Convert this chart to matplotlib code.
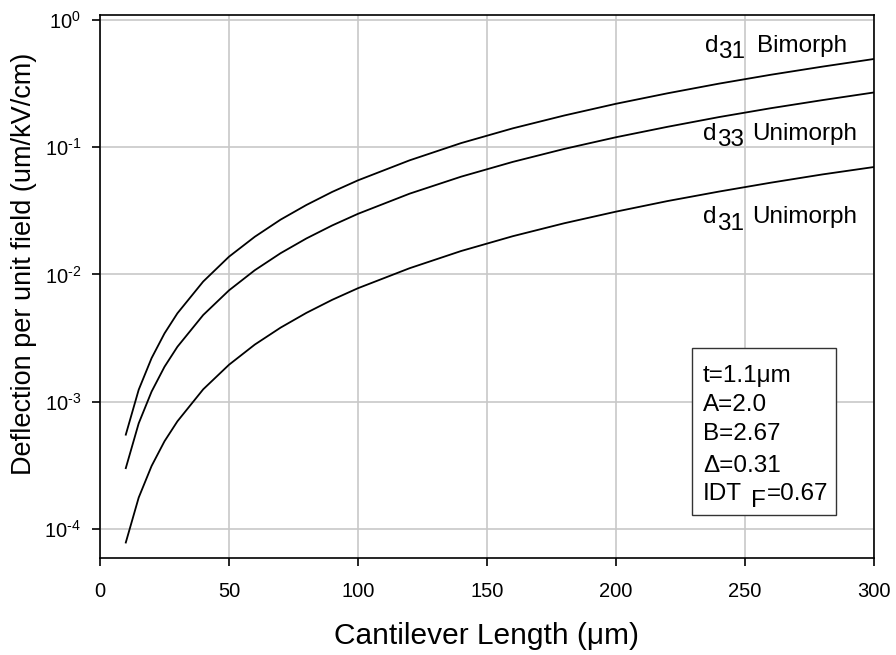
import matplotlib
matplotlib.use("Agg")
import matplotlib.pyplot as plt
from matplotlib.patches import Rectangle

plt.rcParams['font.family'] = ['Liberation Sans', 'DejaVu Sans']
plt.rcParams['mathtext.fontset'] = 'custom'
plt.rcParams['mathtext.rm'] = 'Liberation Sans'

# cantilever length (um)
length = [10, 15, 20, 25, 30, 40, 50, 60, 70, 80, 90, 100, 120, 140,
          160, 180, 200, 220, 240, 260, 280, 300]

# deflection per unit field (um/kV/cm)
d31_bimorph = [5.5e-4, 1.24e-3, 2.2e-3, 3.44e-3, 4.95e-3, 8.8e-3, 1.38e-2,
               1.98e-2, 2.70e-2, 3.52e-2, 4.46e-2, 5.5e-2, 7.9e-2, 0.108,
               0.141, 0.178, 0.22, 0.266, 0.317, 0.372, 0.431, 0.495]
d33_unimorph = [3.0e-4, 6.75e-4, 1.2e-3, 1.88e-3, 2.7e-3, 4.8e-3, 7.5e-3,
                1.08e-2, 1.47e-2, 1.92e-2, 2.43e-2, 3.0e-2, 4.32e-2, 5.88e-2,
                7.68e-2, 9.72e-2, 0.12, 0.145, 0.173, 0.203, 0.235, 0.27]
d31_unimorph = [7.8e-5, 1.76e-4, 3.12e-4, 4.88e-4, 7.0e-4, 1.25e-3, 1.95e-3,
                2.81e-3, 3.82e-3, 4.99e-3, 6.32e-3, 7.8e-3, 1.12e-2, 1.53e-2,
                2.0e-2, 2.53e-2, 3.12e-2, 3.78e-2, 4.49e-2, 5.27e-2, 6.12e-2,
                7.0e-2]

x_ticks = [0, 50, 100, 150, 200, 250, 300]
y_ticks = [1e-4, 1e-3, 1e-2, 1e-1, 1e0]
y_tick_labels = ['10$^{‐4}$', '10$^{‐3}$', '10$^{‐2}$', '10$^{‐1}$', '10$^{0}$']

fig = plt.figure(figsize=(8.96, 6.55), dpi=100)
ax = fig.add_axes([0.1116, 0.148, 0.8638, 0.829])

for ys in (d31_bimorph, d33_unimorph, d31_unimorph):
    ax.plot(length, ys, color='black', lw=1.3, zorder=3)

ax.set_yscale('log')
ax.set_xlim(0, 300)
ax.set_ylim(10 ** -4.23, 10 ** 0.04)
ax.set_xticks(x_ticks)
ax.set_xticklabels([str(v) for v in x_ticks])
ax.set_yticks(y_ticks)
ax.set_yticklabels(y_tick_labels)
ax.minorticks_off()
ax.tick_params(labelsize=14.5, length=5.5, width=1.2, direction='out')
ax.tick_params(axis='x', pad=12)
ax.tick_params(axis='y', pad=8)
ax.grid(True, color='#c8c8c8', lw=1.2)
ax.set_axisbelow(True)
for s in ax.spines.values():
    s.set_linewidth(1.2)

ax.set_xlabel('Cantilever Length (μm)', fontsize=21.5, labelpad=15)
ax.set_ylabel('Deflection per unit field (um/kV/cm)', fontsize=19.5)
ax.yaxis.set_label_coords(-0.081, 0.541)

# curve labels, subscripts kept full size and dropped below the baseline
tr = ax.transAxes
fs = 17.5
labels = [(0.782, 0.799, 0.932, 0.921, '31', 'Bimorph', 0.849),
          (0.779, 0.797, 0.770, 0.759, '33', 'Unimorph', 0.843),
          (0.779, 0.797, 0.617, 0.604, '31', 'Unimorph', 0.843)]
for d_x, sub_x, base, sub_y, sub, name, name_x in labels:
    ax.text(d_x, base, 'd', transform=tr, fontsize=fs, va='baseline')
    ax.text(sub_x, sub_y, sub, transform=tr, fontsize=fs, va='baseline')
    ax.text(name_x, base, name, transform=tr, fontsize=fs, va='baseline')

# parameter box
ax.add_patch(Rectangle((0.765, 0.079), 0.186, 0.308, transform=tr,
                       facecolor='white', edgecolor='#333333', lw=1.0, zorder=4))
box_lines = [(0.324, 't=1.1μm'), (0.271, 'A=2.0'), (0.217, 'B=2.67'),
             (0.158, 'Δ=0.31')]
for yb, s in box_lines:
    ax.text(0.779, yb, s, transform=tr, fontsize=fs, va='baseline', zorder=5)
ax.text(0.779, 0.107, 'IDT', transform=tr, fontsize=fs, va='baseline', zorder=5)
ax.text(0.841, 0.094, 'F', transform=tr, fontsize=fs, va='baseline', zorder=5)
ax.text(0.862, 0.107, '=0.67', transform=tr, fontsize=fs, va='baseline', zorder=5)

fig.savefig('out.png', dpi=100)
